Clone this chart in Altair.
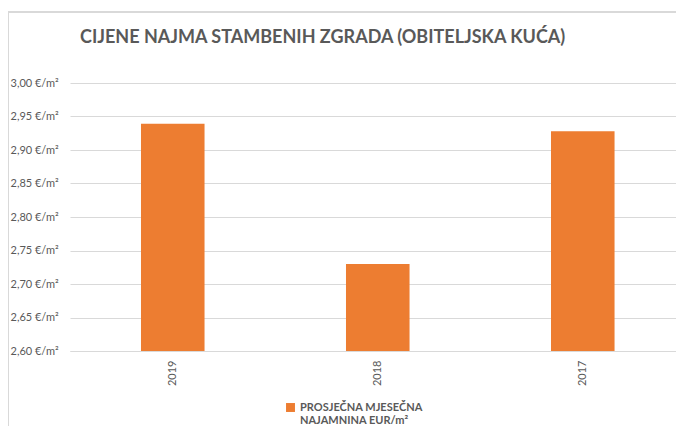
import altair as alt
import pandas as pd

years = ["2019", "2018", "2017"]
values = [2.939, 2.730, 2.928]
series_name = "PROSJEČNA MJESEČNA NAJAMNINA EUR/m²"

df = pd.DataFrame({"year": years, "value": values, "series": [series_name] * 3})

FONT = "Lato"
GRAY = "#595959"
GRID = "#d9d9d9"

bars = alt.Chart(df).mark_bar(color="#ED7D31").encode(
    x=alt.X(
        "year:N",
        sort=years,
        title=None,
        scale=alt.Scale(paddingInner=0.69, paddingOuter=0.323, align=0.536),
        axis=alt.Axis(
            labelAngle=270,
            labelAlign="right",
            labelBaseline="middle",
            labelPadding=9,
            labelFontSize=11,
            labelColor=GRAY,
            labelFont=FONT,
            ticks=False,
            domainColor=GRID,
            grid=False,
        ),
    ),
    y=alt.Y(
        "value:Q",
        title=None,
        scale=alt.Scale(domain=[2.6, 3.0], zero=False, nice=False),
        axis=alt.Axis(
            values=[2.60, 2.65, 2.70, 2.75, 2.80, 2.85, 2.90, 2.95, 3.00],
            labelExpr="replace(format(datum.value, '.2f'), '.', ',') + ' €/m²'",
            labelAlign="left",
            labelPadding=60,
            labelFontSize=11,
            labelColor=GRAY,
            labelFont=FONT,
            ticks=False,
            domain=False,
            gridColor=GRID,
            gridWidth=1,
        ),
    ),
    y2=alt.datum(2.6),
    color=alt.Color(
        "series:N",
        scale=alt.Scale(range=["#ED7D31"]),
        legend=alt.Legend(
            title=None,
            orient="none",
            legendX=215,
            legendY=319,
            symbolType="square",
            symbolSize=80,
            symbolStrokeWidth=0,
            labelFont=FONT,
            labelFontSize=11,
            labelFontWeight="bold",
            labelColor=GRAY,
            labelOffset=4,
            labelLimit=300,
            labelExpr="['PROSJEČNA MJESEČNA', 'NAJAMNINA EUR/m²']",
        ),
    ),
)

frame_top = alt.Chart(df).mark_rule(color=GRID, strokeWidth=1.5).encode(
    x=alt.value(-62), x2=alt.value(606), y=alt.value(-71)
)
frame_left = alt.Chart(df).mark_rule(color=GRID, strokeWidth=1.5).encode(
    x=alt.value(-62), y=alt.value(-71), y2=alt.value(345)
)

chart = alt.layer(bars, frame_top, frame_left).properties(
    width=606,
    height=268,
    autosize=alt.AutoSizeParams(type="none"),
    padding={"left": 62, "top": 75, "right": 0, "bottom": 75},
    title=alt.TitleParams(
        "CIJENE NAJMA STAMBENIH ZGRADA (OBITELJSKA KUĆA)",
        anchor="start",
        frame="group",
        dx=10,
        dy=56,
        fontSize=18,
        fontWeight="bold",
        font=FONT,
        color=GRAY,
        offset=20,
    ),
).configure_view(stroke=None)

chart.save("out.html", embed_options={"renderer": "svg", "actions": False})
